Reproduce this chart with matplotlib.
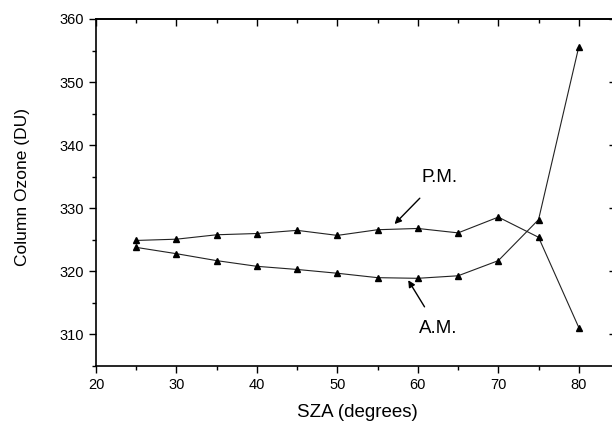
import matplotlib
matplotlib.use("Agg")
import matplotlib.pyplot as plt
from matplotlib.ticker import MultipleLocator

plt.rcParams['font.family'] = ['Liberation Sans', 'DejaVu Sans']

sza = [25, 30, 35, 40, 45, 50, 55, 60, 65, 70, 75, 80]
am_ozone = [323.8, 322.8, 321.7, 320.8, 320.3, 319.7, 319.0, 318.9, 319.3, 321.7, 328.2, 355.6]
pm_ozone = [324.9, 325.1, 325.8, 326.0, 326.5, 325.7, 326.6, 326.8, 326.1, 328.6, 325.4, 311.1]

fig = plt.figure(figsize=(6.12, 4.22), dpi=100)
ax = fig.add_axes([96/612, 1-366/422, (615-96)/612, (366-19)/422])

for vals in (am_ozone, pm_ozone):
    ax.plot(sza, vals, color='#222222', lw=0.8, marker='^', ms=5,
            markerfacecolor='black', markeredgecolor='black')

ax.set_xlim(20, 84.5)
ax.set_ylim(305, 360)
ax.xaxis.set_major_locator(MultipleLocator(10))
ax.xaxis.set_minor_locator(MultipleLocator(5))
ax.yaxis.set_major_locator(MultipleLocator(10))
ax.yaxis.set_minor_locator(MultipleLocator(5))

ax.tick_params(axis='both', which='both', direction='out', top=False, right=False,
               labelsize=10.5, colors='black', width=1.0)
ax.tick_params(which='major', length=5)
ax.tick_params(which='minor', length=3)

# inward ticks on the top and right
axt = ax.secondary_xaxis('top')
axt.xaxis.set_major_locator(MultipleLocator(10))
axt.xaxis.set_minor_locator(MultipleLocator(5))
axt.tick_params(which='both', direction='in', labeltop=False, width=1.0)
axt.tick_params(which='major', length=5)
axt.tick_params(which='minor', length=3)
axr = ax.secondary_yaxis('right')
axr.yaxis.set_major_locator(MultipleLocator(10))
axr.tick_params(which='both', direction='in', labelright=False, width=1.0, length=4)

for s in ax.spines.values():
    s.set_linewidth(1.2)
for s in list(axt.spines.values()) + list(axr.spines.values()):
    s.set_linewidth(1.2)

ax.set_xlabel('SZA (degrees)', fontsize=13.5)
ax.set_ylabel('Column Ozone (DU)', fontsize=12.5)
ax.xaxis.set_label_coords((357 - 96) / (615 - 96), (366 - 404) / 347)
ax.yaxis.set_label_coords((30 - 96) / (615 - 96), (366 - 187) / 347)

ax.annotate('P.M.', xy=(57.1, 327.5), xytext=(62.7, 334.8), fontsize=13.5,
            ha='center', va='center',
            arrowprops=dict(arrowstyle='-|>', color='black', lw=1.0,
                            shrinkA=9, shrinkB=0, mutation_scale=10))
ax.annotate('A.M.', xy=(58.8, 318.6), xytext=(62.5, 310.9), fontsize=13.5,
            ha='center', va='center',
            arrowprops=dict(arrowstyle='-|>', color='black', lw=1.0,
                            shrinkA=9, shrinkB=0, mutation_scale=10))

fig.savefig('out.png', dpi=100)
